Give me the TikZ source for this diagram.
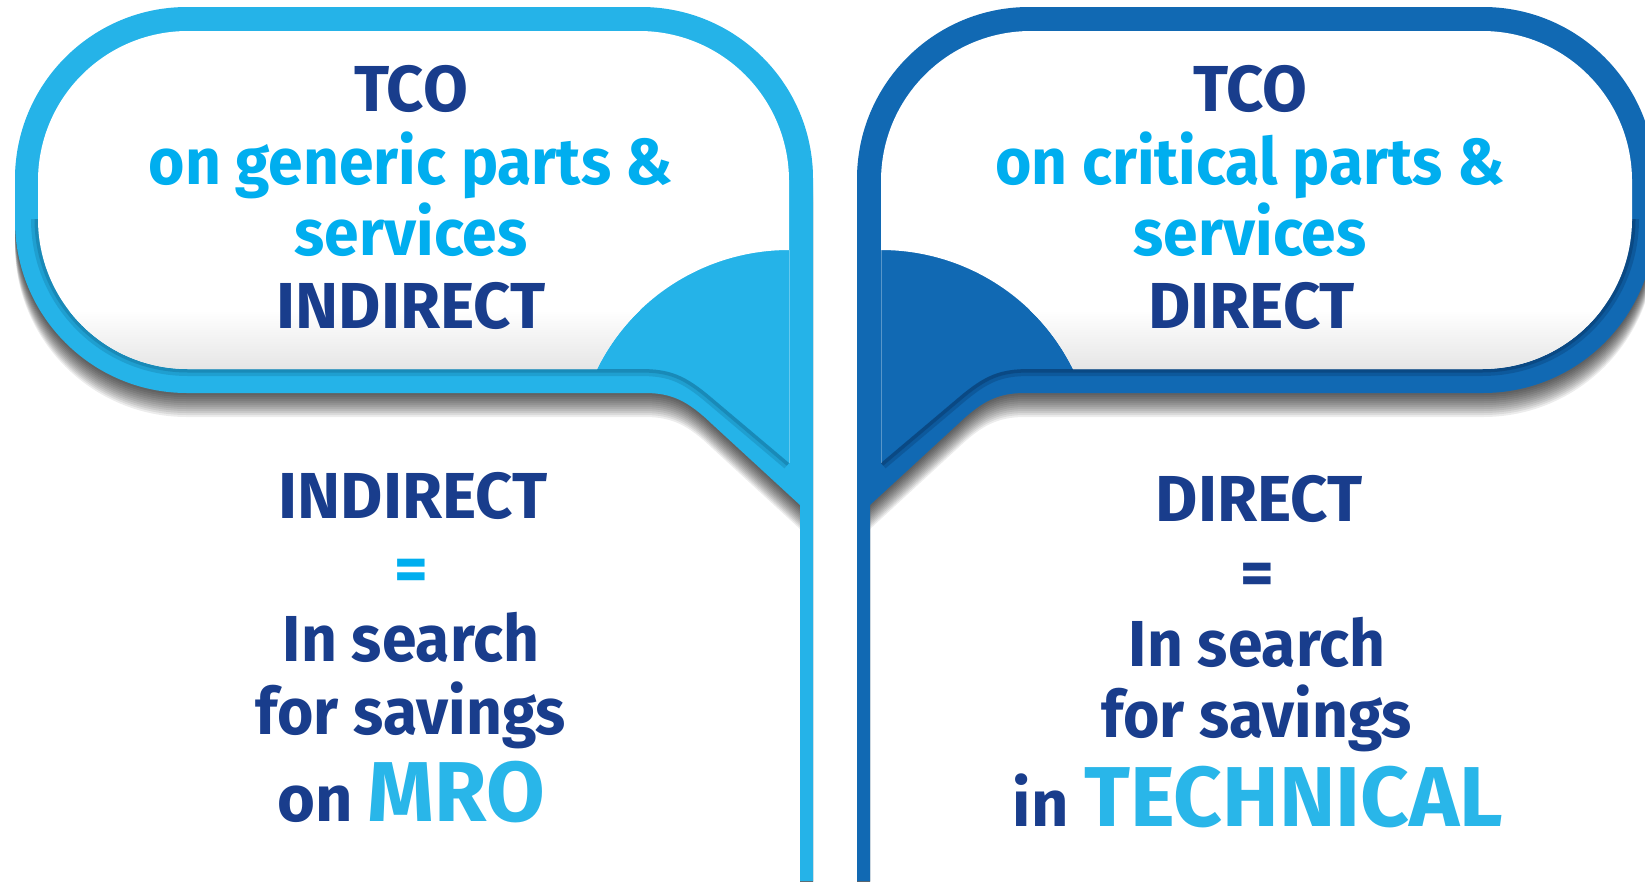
\documentclass[tikz,border=0pt]{standalone}
\usepackage{fontspec}
\setmainfont{Fira Sans}
\newfontfamily\narrowfont{Fira Sans}[FakeStretch=0.96]
\definecolor{lb}{RGB}{37,179,232}
\definecolor{db}{RGB}{17,105,179}
\definecolor{lbshade}{RGB}{15,100,140}
\definecolor{dbshade}{RGB}{5,45,90}
\definecolor{navy}{RGB}{25,61,140}
\definecolor{cyantxt}{RGB}{0,174,239}
\definecolor{lbtext}{RGB}{41,182,233}
\newcommand\OuterPath{(800,881) -- (800,505) -- (712,424) .. controls (688,401) and (672,393) .. (645,393) -- (187,393) .. controls (92,393) and (15,316) .. (15,221) -- (15,179) .. controls (15,84) and (92,7) .. (187,7) -- (641,7) .. controls (736,7) and (813,84) .. (813,179) -- (813,881) -- cycle}
\newcommand\WhitePath{(789,181) -- (789,250) .. controls (707.5,250) and (633,296) .. (597,369) -- (188,369) .. controls (105,369) and (38,302) .. (38,219) -- (38,181) .. controls (38,98) and (105,31) .. (188,31) -- (639,31) .. controls (722,31) and (789,98) .. (789,181) -- cycle}
\newcommand\InnerEdge{(38,219) .. controls (38,302) and (105,369) .. (188,369) -- (640,369) .. controls (670,369) and (685,375) .. (712,398) -- (789,463)}
\newcommand\PanelShapes[2]{%
  \foreach \i in {1,...,12}{\fill[black,opacity=0.075,shift={(0,2*\i)}] \OuterPath;}
  \fill[#1] \OuterPath;
  \begin{scope}
    \clip (0,0) -- (597,0) -- (597,369) -- (640,369) .. controls (670,369) and (685,375) .. (712,398) -- (789,463) -- (789,900) -- (0,900) -- cycle;
    \draw[#2, opacity=.25, line width=14pt] \InnerEdge;
    \draw[#2, opacity=.35, line width=7pt] \InnerEdge;
  \end{scope}
  \fill[white] \WhitePath;
  \begin{scope}
    \clip \WhitePath;
    \shade[top color=white, bottom color=black!10] (0,310) rectangle (800,369);
  \end{scope}
  \draw[white, opacity=.3, line width=1pt] (789,250) -- (789,463);
}
\tikzset{
  txt/.style={anchor=base, inner sep=0pt, font=\fontsize{65}{70}\selectfont\bfseries},
  ntxt/.style={anchor=base, inner sep=0pt, font=\narrowfont\fontsize{65}{70}\selectfont\bfseries},
}
\begin{document}
\begin{tikzpicture}[x=1pt, y=-1pt]
\useasboundingbox (0,0) rectangle (1645,881);
\clip (0,0) rectangle (1645,881);
\fill[white] (0,0) rectangle (1645,881);
\PanelShapes{lb}{lbshade}
\begin{scope}[shift={(1670,0)}, xscale=-1]
\PanelShapes{db}{dbshade}
\end{scope}
% left texts
\node[txt, text=navy] (lTCO) at (411,111.7) {TCO};
\node[ntxt, text=cyantxt] (lOn) at (411,184) {on generic parts \&};
\node[ntxt, text=cyantxt] (lServ) at (411,255) {services};
\node[txt, text=navy] (lInd) at (411,328) {INDIRECT};
\node[txt, text=navy] (lInd2) at (413,518.3) {INDIRECT};
\node[txt, text=cyantxt] (lEq) at (411,591) {=};
\node[ntxt, text=navy] (lSearch) at (411,661.7) {In search};
\node[ntxt, text=navy] (lSav) at (411,734) {for savings};
\node[txt, text=navy] (lMro) at (411,821.7) {on \textcolor{lbtext}{\fontsize{85}{90}\selectfont MRO}};
% right texts
\node[txt, text=navy] (rTCO) at (1250.5,111.7) {TCO};
\node[ntxt, text=cyantxt] (rOn) at (1250,184) {on critical parts \&};
\node[ntxt, text=cyantxt] (rServ) at (1250,255) {services};
\node[txt, text=navy] (rDir) at (1251.5,328) {DIRECT};
\node[txt, text=navy] (rDir2) at (1259,521.7) {DIRECT};
\node[txt, text=navy] (rEq) at (1257,595) {=};
\node[ntxt, text=navy] (rSearch) at (1257,666) {In search};
\node[ntxt, text=navy] (rSav) at (1257,737.7) {for savings};
\node[txt, text=navy] (rTech) at (1258,826) {in \textcolor{lbtext}{\fontsize{85}{90}\selectfont TECHNICAL}};
\end{tikzpicture}
\end{document}
